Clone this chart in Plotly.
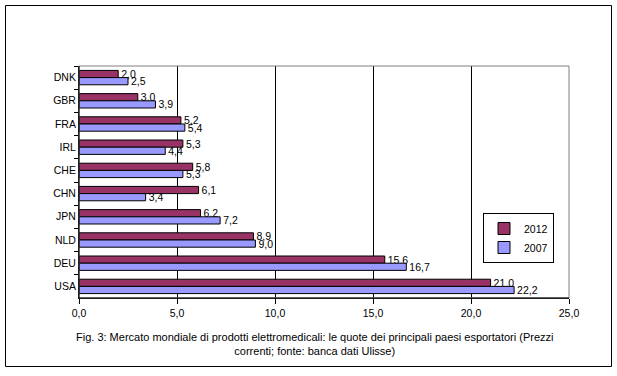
import plotly.graph_objects as go

countries = ["DNK", "GBR", "FRA", "IRL", "CHE", "CHN", "JPN", "NLD", "DEU", "USA"]
values_2012 = [2.0, 3.0, 5.2, 5.3, 5.8, 6.1, 6.2, 8.9, 15.6, 21.0]
values_2007 = [2.5, 3.9, 5.4, 4.4, 5.3, 3.4, 7.2, 9.0, 16.7, 22.2]
x_ticks = [0, 5, 10, 15, 20, 25]
caption = ("Fig. 3: Mercato mondiale di prodotti elettromedicali: le quote dei principali paesi esportatori (Prezzi<br>"
           "correnti; fonte: banca dati Ulisse)")

W, H = 617, 376
L, R, T, B = 79, 569, 66, 298

def px_x(p):
    return (p - L) / (R - L)

def px_y(p):
    return (B - p) / (B - T)

FONT = "Arial, Liberation Sans, sans-serif"
FS = 10.5

fig = go.Figure()
fig.add_trace(go.Bar(
    name="2012", y=countries, x=values_2012, orientation="h",
    marker=dict(color="#993366", line=dict(color="black", width=1)),
    texttemplate="%{x:.1f}", textposition="outside", cliponaxis=False,
    constraintext="none", textfont=dict(size=FS, color="black", family=FONT),
))
fig.add_trace(go.Bar(
    name="2007", y=countries, x=values_2007, orientation="h",
    marker=dict(color="#9999FF", line=dict(color="black", width=1)),
    texttemplate="%{x:.1f}", textposition="outside", cliponaxis=False,
    constraintext="none", textfont=dict(size=FS, color="black", family=FONT),
))

fig.update_layout(
    width=W, height=H,
    margin=dict(l=L, r=W - R, t=T, b=H - B),
    paper_bgcolor="white", plot_bgcolor="white",
    barmode="group", bargap=0.38, bargroupgap=0,
    separators=",.",
    font=dict(family=FONT, size=FS, color="black"),
    showlegend=True,
    legend=dict(
        x=px_x(483), y=px_y(213), xanchor="left", yanchor="top",
        bordercolor="black", borderwidth=1, bgcolor="white",
        font=dict(size=FS), itemwidth=30, tracegroupgap=0,
    ),
    xaxis=dict(
        range=[0, 25], tickvals=x_ticks, tickformat=".1f",
        showgrid=True, gridcolor="black", gridwidth=1,
        showline=True, linecolor="black", linewidth=1,
        ticks="outside", ticklen=5, tickcolor="black",
        zeroline=False, fixedrange=True,
    ),
    yaxis=dict(
        categoryorder="array", categoryarray=countries, autorange="reversed",
        showline=True, linecolor="black", linewidth=1,
        ticks="outside", ticklen=4, tickcolor="black", tickson="boundaries",
        showgrid=False, zeroline=False,
    ),
    shapes=[
        dict(type="rect", xref="x domain", yref="y domain", x0=0, x1=1, y0=0, y1=1,
             line=dict(color="#808080", width=1), layer="above"),
        dict(type="line", xref="x domain", yref="y domain", x0=0, x1=0, y0=0, y1=1,
             line=dict(color="black", width=1), layer="above"),
        dict(type="line", xref="x domain", yref="y domain", x0=0, x1=1, y0=0, y1=0,
             line=dict(color="black", width=1), layer="above"),
        dict(type="rect", xref="paper", yref="paper",
             x0=px_x(5.5), x1=px_x(611.5), y0=px_y(366.5), y1=px_y(5.5),
             line=dict(color="black", width=1)),
    ],
    annotations=[
        dict(text=caption, xref="paper", yref="paper", x=px_x(315), y=px_y(344),
             xanchor="center", yanchor="middle", showarrow=False, align="center",
             font=dict(size=11, family=FONT, color="black")),
    ],
)

fig.write_html("out.html", config={"displayModeBar": False},
               post_script="document.body.style.margin='0';document.body.style.padding='0';")
